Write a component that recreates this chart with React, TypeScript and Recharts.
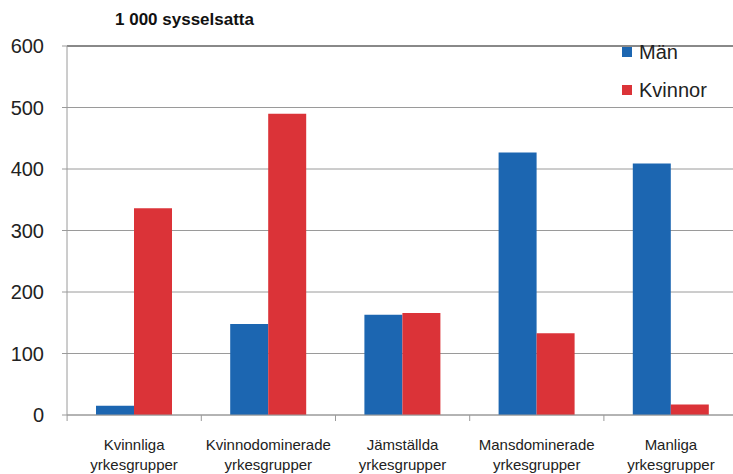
import React from 'react';
import { BarChart, Bar, XAxis, YAxis, CartesianGrid, ReferenceLine } from 'recharts';

const categories = [
  ['Kvinnliga', 'yrkesgrupper'],
  ['Kvinnodominerade', 'yrkesgrupper'],
  ['Jämställda', 'yrkesgrupper'],
  ['Mansdominerade', 'yrkesgrupper'],
  ['Manliga', 'yrkesgrupper'],
];
const man = [15, 148, 163, 427, 409];
const kvinnor = [336, 490, 166, 133, 17];
const yTicks = [0, 100, 200, 300, 400, 500, 600];

const BLUE = '#1c66b1';
const RED = '#db3338';

const data = categories.map((c, i) => ({
  name: c.join('\n'),
  man: man[i],
  kvinnor: kvinnor[i],
}));

const legendItems = [
  { label: 'Män', color: BLUE },
  { label: 'Kvinnor', color: RED },
];

const XTick = (props: any) => {
  const { x, y, payload } = props;
  const lines = String(payload.value).split('\n');
  const half = 67;
  return (
    <g>
      <line x1={x - half} y1={y - 8} x2={x - half} y2={y - 2} stroke="#9a9a9a" />
      {lines.map((l, i) => (
        <text
          key={i}
          x={x}
          y={y + 27 + i * 20}
          textAnchor="middle"
          fontSize={15}
          fontFamily="'Liberation Sans', Arial, sans-serif"
          fill="#222"
        >
          {l}
        </text>
      ))}
    </g>
  );
};

export default function App() {
  return (
    <div style={{ position: 'absolute', left: 0, top: 0, width: 733, height: 474, overflow: 'hidden', background: '#fff' }}>
      <div
        style={{
          position: 'absolute',
          left: 115,
          top: 10,
          fontFamily: "'Liberation Sans', Arial, sans-serif",
          fontWeight: 'bold',
          fontSize: 17,
          color: '#111',
        }}
      >
        1 000 sysselsatta
      </div>
      <BarChart
        width={738}
        height={474}
        data={data}
        margin={{ top: 46, right: 0, bottom: 0, left: 0 }}
        barCategoryGap={29}
        barGap={0}
      >
        <CartesianGrid vertical={false} stroke="#9a9a9a" />
        <XAxis
          dataKey="name"
          tick={<XTick />}
          tickLine={false}
          axisLine={{ stroke: '#9a9a9a' }}
          height={59}
          interval={0}
        />
        <YAxis
          domain={[0, 600]}
          ticks={yTicks}
          width={67}
          tickSize={5}
          tickMargin={18}
          tickLine={{ stroke: '#9a9a9a' }}
          axisLine={{ stroke: '#9a9a9a' }}
          tick={{ fontSize: 20, fill: '#222', fontFamily: "'Liberation Sans', Arial, sans-serif" }}
        />
        <ReferenceLine y={600} stroke="#444" />
        <Bar dataKey="man" name="Män" fill={BLUE} isAnimationActive={false} />
        <Bar dataKey="kvinnor" name="Kvinnor" fill={RED} isAnimationActive={false} />
      </BarChart>
      <div
        style={{
          position: 'absolute',
          left: 622,
          top: 33,
          fontFamily: "'Liberation Sans', Arial, sans-serif",
          fontSize: 20,
          color: '#222',
        }}
      >
        {legendItems.map((e) => (
          <div key={e.label} style={{ display: 'flex', alignItems: 'center', height: 38 }}>
            <span style={{ display: 'inline-block', width: 10, height: 10, background: e.color, marginRight: 7 }} />
            <span>{e.label}</span>
          </div>
        ))}
      </div>
    </div>
  );
}
